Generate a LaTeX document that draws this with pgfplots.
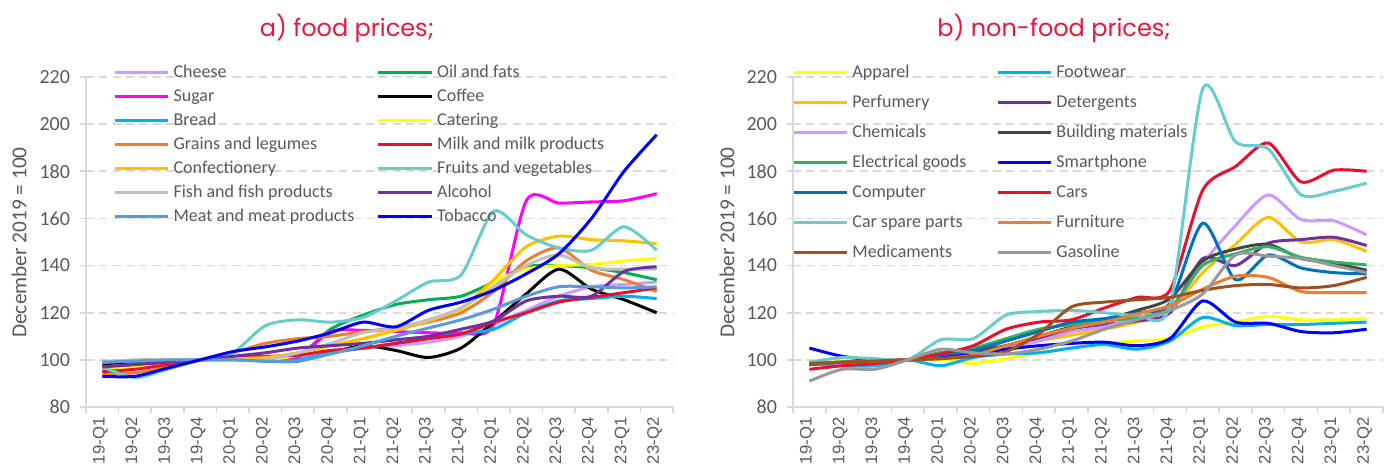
\documentclass[border=0pt]{standalone}
\usepackage{fontspec}
\setmainfont{Carlito}
\newfontfamily\titlefont{Poppins}
\newfontfamily\arialfont{Liberation Sans}
\usepackage{pgfplots}
\usepackage{pgfplotstable}
\pgfplotsset{compat=1.18}

\definecolor{textc}{HTML}{595959}
\definecolor{gridc}{HTML}{D9D9D9}
\definecolor{titlec}{RGB}{230,25,60}
\definecolor{cCheese}{HTML}{CC99FF}
\definecolor{cOil}{HTML}{00B050}
\definecolor{cSugar}{HTML}{FF00FF}
\definecolor{cCoffee}{HTML}{000000}
\definecolor{cBread}{HTML}{00B0F0}
\definecolor{cCatering}{HTML}{FFFF00}
\definecolor{cGrains}{HTML}{ED7D31}
\definecolor{cMilk}{HTML}{E8112D}
\definecolor{cConfect}{HTML}{FFC000}
\definecolor{cFruits}{HTML}{66CCCC}
\definecolor{cFish}{HTML}{BFBFBF}
\definecolor{cAlcohol}{HTML}{7030A0}
\definecolor{cMeat}{HTML}{5B9BD5}
\definecolor{cTobacco}{HTML}{0000FF}
\definecolor{cBuilding}{HTML}{454545}
\definecolor{cElectrical}{RGB}{48,180,100}
\definecolor{cComputer}{HTML}{0070C0}
\definecolor{cMedic}{HTML}{A0501E}
\definecolor{cGasoline}{HTML}{999999}

\pgfplotstableread{
x Cheese Oil Sugar Coffee Bread Catering Grains Milk Confect Fruits Fish Alcohol Meat Tobacco
0  99.5 97    96    98    99    96.5 94    95    97    97    99    97    99    93
1  99.5 98    97.5  99    99.5  97   94.5  96    98    92.5  100   98    99.5  93
2  99.5 99    99    99.5  99.5  98.5 97    98    99    96    100   99    100   96.5
3  100  100   100   100   100   100  100   100   100   100   100   100   100   100
4  100.5 101  101   100.5 100   101  103   101   100.5 103   100   101.5 100   103.5
5  101  100   100.5 99.5  99.5  100  107   101.5 101   114.5 100   103   99.5  105.5
6  101.5 101.5 101  99.5  100   102  109   102   103   117   103   105   99.5  108
7  103  113   112   103   103   106  110   104   106   116   107   106   102.5 111.5
8  105  119   112.5 106   105   109  112   105   109   118   111.5 107   106   116
9  106  123.5 112   104   107   113  113.5 107   112.5 125   113.5 108.5 110   114
10 107.5 125.5 111.5 101  109   117  116   109   116.5 133   117   110   113.5 121
11 110  127   111.5 105   111   121  120   111   122   136   122   113   117   124.5
12 115  133   115   116   113   133  129   116   134   163   131   116.5 121.5 129.5
13 121  139.5 167.5 128   120   138.5 142  120   148   153   140   125   127   136.5
14 127  140   166.5 138.5 125   140  147.5 124.5 152.5 147.5 144.5 127   131   145
15 131  139   167   130   126   140.5 138  126.5 151   146.5 139   127   131   160
16 132  137   167.5 125.5 127   142  134   128.5 150.5 156.5 138.5 137.5 130.5 180
17 133  134   170.5 120   126   143  129   130.5 149.3 146.5 138.5 139.5 131   195.5
}\food

\pgfplotstableread{
x Apparel Footwear Perfumery Detergents Chemicals Building Electrical Smartphone Computer Cars CarParts Furniture Medic Gasoline
0  99.5 99    98.5  98    98    98    98    105   98    96    99    98.5  98.5  91
1  99   97.5  99    98.5  98.5  99    99    101.5 99    97.5  101   99    99    96
2  99   97.5  99.5  99    99    99.5  99.5  100   99.5  98.5  100.5 99.5  99.5  96
3  100  100   100   100   100   100   100   100   100   100   100   100   100   100
4  100  97.5  101   101   101   103   103   101   102   102.5 108.5 100.5 100.5 104.5
5  98.5 101   102   103   102.5 104   105   102.5 104   106   109   102   101.5 103
6  100.5 102.5 105  106   105   106   109   104.5 108   113   119   106   103.5 102.5
7  103  103   108   109   108   110   113   106   112   116   120.5 110   111   104.5
8  105  105   110.5 113   112   114   115   107   116   117   121   113.5 122.5 108
9  107  106.5 113   115   114   117   116.5 107.5 117.5 122   120   116   124.5 113
10 108  104.5 116   116.5 118   121   118   106   120   126.5 119   119.5 125.5 117
11 109  108   121   120   121   126   122   109   124   129.5 123   123   126.5 121
12 114  118   137   143   141   142   140   125   158   172   215   130   129.5 128
13 116  114.5 149   140   157   147   145   116   134   182   192.5 135.5 131.5 144.5
14 118.5 115  160.5 149.5 170   149   148   115.5 144.5 192  189.5 135   132   144
15 117  115   150   151   159.5 143   143.5 112   139   175.5 170   129   130.5 143
16 117  115.5 151   152   159   141   141.5 111.5 137   180.5 171.5 128.5 131.5 140
17 117.5 116  146   148.5 153   138   140.3 113   136.5 180  175   128.5 135   137
}\nonfood

\pgfplotsset{
  base/.style={
    scale only axis,
    height=247.5pt,
    xmin=-0.5, xmax=17.5, ymin=80, ymax=220,
    xtick={0,...,17},
    xticklabels={19-Q1,19-Q2,19-Q3,19-Q4,20-Q1,20-Q2,20-Q3,20-Q4,21-Q1,21-Q2,21-Q3,21-Q4,22-Q1,22-Q2,22-Q3,22-Q4,23-Q1,23-Q2},
    minor xtick={-0.5,0.5,...,17.5},
    ytick={80,100,...,220},
    axis x line*=bottom, axis y line*=left,
    axis line style={draw=gridc, line width=1.2pt},
    ymajorgrids,
    grid style={draw=gridc, dash pattern=on 6pt off 4pt, line width=1.2pt},
    tick align=outside,
    major tick length=4.5pt, minor tick length=4.5pt,
    major x tick style={draw=none},
    minor x tick style={draw=gridc, line width=1.2pt},
    major y tick style={draw=gridc, line width=1.2pt},
    /pgf/number format/assume math mode=true,
    yticklabel style={font=\fontsize{15}{15}\selectfont, text=textc, xshift=-4pt},
    xticklabel style={rotate=90, anchor=east, font=\arialfont\fontsize{12.5}{12.5}\selectfont, text=textc, yshift=1.5pt},
    every axis plot/.append style={line width=2.25pt, smooth, tension=0.45, no markers},
    legend columns=2,
    legend cell align=left,
    legend image code/.code={\draw[#1] (0pt,0pt) -- (40pt,0pt);},
    legend style={draw=none, fill=none, anchor=north west, inner sep=0pt,
      font=\fontsize{13.5}{13.5}\selectfont, text=textc,
      nodes={inner sep=1pt, text height=10pt, text depth=3pt},
      /tikz/every odd column/.style={column sep=2pt}},
  }
}

\begin{document}
\begin{tikzpicture}
\useasboundingbox (0,0) rectangle (1043.25pt,348pt);
\begin{axis}[base, at={(64.5pt,42.75pt)}, anchor=south west, width=440.25pt,
  legend style={at={(axis description cs:0.046,1.045)}, row sep=3pt,
    /tikz/every even column/.style={column sep=15.75pt}}]
\addplot[cCheese] table[x=x,y=Cheese]{\food}; \addlegendentry{Cheese}
\addplot[cOil] table[x=x,y=Oil]{\food}; \addlegendentry{Oil and fats}
\addplot[cSugar] table[x=x,y=Sugar]{\food}; \addlegendentry{Sugar}
\addplot[cCoffee] table[x=x,y=Coffee]{\food}; \addlegendentry{Coffee}
\addplot[cBread] table[x=x,y=Bread]{\food}; \addlegendentry{Bread}
\addplot[cCatering] table[x=x,y=Catering]{\food}; \addlegendentry{Catering}
\addplot[cGrains] table[x=x,y=Grains]{\food}; \addlegendentry{Grains and legumes}
\addplot[cMilk] table[x=x,y=Milk]{\food}; \addlegendentry{Milk and milk products}
\addplot[cConfect] table[x=x,y=Confect]{\food}; \addlegendentry{Confectionery}
\addplot[cFruits] table[x=x,y=Fruits]{\food}; \addlegendentry{Fruits and vegetables}
\addplot[cFish] table[x=x,y=Fish]{\food}; \addlegendentry{Fish and fish products}
\addplot[cAlcohol] table[x=x,y=Alcohol]{\food}; \addlegendentry{Alcohol}
\addplot[cMeat] table[x=x,y=Meat]{\food}; \addlegendentry{Meat and meat products}
\addplot[cTobacco] table[x=x,y=Tobacco]{\food}; \addlegendentry{Tobacco}
\end{axis}
\begin{axis}[base, at={(594.75pt,42.75pt)}, anchor=south west, width=442.5pt,
  legend style={at={(axis description cs:-0.002,1.045)}, row sep=7.5pt,
    /tikz/every even column/.style={column sep=21.25pt}}]
\addplot[cCatering] table[x=x,y=Apparel]{\nonfood}; \addlegendentry{Apparel}
\addplot[cBread] table[x=x,y=Footwear]{\nonfood}; \addlegendentry{Footwear}
\addplot[cConfect] table[x=x,y=Perfumery]{\nonfood}; \addlegendentry{Perfumery}
\addplot[cAlcohol] table[x=x,y=Detergents]{\nonfood}; \addlegendentry{Detergents}
\addplot[cCheese] table[x=x,y=Chemicals]{\nonfood}; \addlegendentry{Chemicals}
\addplot[cBuilding] table[x=x,y=Building]{\nonfood}; \addlegendentry{Building materials}
\addplot[cElectrical] table[x=x,y=Electrical]{\nonfood}; \addlegendentry{Electrical goods}
\addplot[cTobacco] table[x=x,y=Smartphone]{\nonfood}; \addlegendentry{Smartphone}
\addplot[cComputer] table[x=x,y=Computer]{\nonfood}; \addlegendentry{Computer}
\addplot[cMilk] table[x=x,y=Cars]{\nonfood}; \addlegendentry{Cars}
\addplot[cFruits] table[x=x,y=CarParts]{\nonfood}; \addlegendentry{Car spare parts}
\addplot[cGrains] table[x=x,y=Furniture]{\nonfood}; \addlegendentry{Furniture}
\addplot[cMedic] table[x=x,y=Medic]{\nonfood}; \addlegendentry{Medicaments}
\addplot[cGasoline] table[x=x,y=Gasoline]{\nonfood}; \addlegendentry{Gasoline}
\end{axis}
\node[font=\titlefont\fontsize{18}{18}\selectfont, text=titlec] at (260.25pt,327pt) {a) food prices;};
\node[font=\titlefont\fontsize{18}{18}\selectfont, text=titlec] at (790.5pt,327pt) {b) non-food prices;};
\node[rotate=90, font=\fontsize{16}{16}\selectfont, text=textc] at (14.25pt,166.1pt) {December 2019 = 100};
\node[rotate=90, font=\fontsize{16}{16}\selectfont, text=textc] at (545.25pt,166.1pt) {December 2019 = 100};
\end{tikzpicture}
\end{document}
